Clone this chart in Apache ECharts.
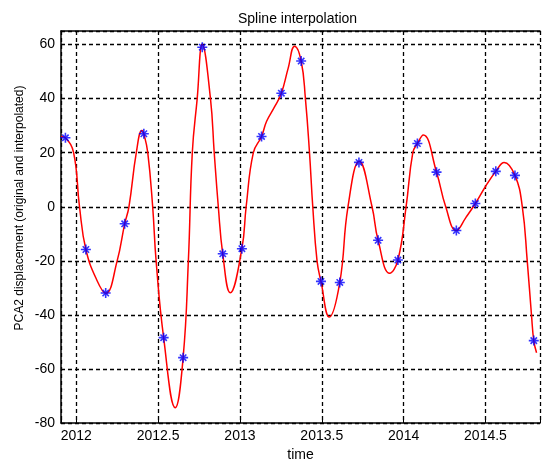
<!DOCTYPE html>
<html>
<head>
<meta charset="utf-8">
<script src="https://cdn.jsdelivr.net/npm/echarts@6/dist/echarts.min.js"></script>
<style>html,body{margin:0;padding:0;background:#fff}#c{width:543px;height:467px}</style>
</head>
<body>
<div id="c"></div>
<script>
// original samples (blue markers)
var pointsX = [2011.934, 2012.059, 2012.180, 2012.296, 2012.413, 2012.534, 2012.653, 2012.770, 2012.895, 2013.012, 2013.132, 2013.253, 2013.374, 2013.495, 2013.610, 2013.727, 2013.844, 2013.965, 2014.084, 2014.201, 2014.322, 2014.438, 2014.563, 2014.680, 2014.795];
var pointsY = [25.5, -15.8, -31.9, -6.3, 27.0, -48.4, -55.8, 59.0, -17.4, -15.5, 26.0, 42.0, 53.9, -27.6, -28.0, 16.4, -12.4, -19.7, 23.4, 12.8, -8.8, 1.2, 13.1, 11.6, -49.5];
// interpolated curve (red line)
var curveX = [2011.907, 2011.934, 2011.984, 2012.020, 2012.059, 2012.125, 2012.180, 2012.250, 2012.296, 2012.322, 2012.367, 2012.401, 2012.413, 2012.437, 2012.467, 2012.488, 2012.534, 2012.605, 2012.653, 2012.685, 2012.709, 2012.739, 2012.770, 2012.820, 2012.843, 2012.868, 2012.895, 2012.941, 2013.012, 2013.038, 2013.082, 2013.132, 2013.163, 2013.213, 2013.253, 2013.294, 2013.334, 2013.374, 2013.400, 2013.425, 2013.445, 2013.471, 2013.495, 2013.546, 2013.610, 2013.660, 2013.729, 2013.807, 2013.844, 2013.915, 2013.965, 2014.015, 2014.056, 2014.084, 2014.120, 2014.201, 2014.257, 2014.322, 2014.380, 2014.438, 2014.500, 2014.563, 2014.614, 2014.680, 2014.725, 2014.755, 2014.781, 2014.795, 2014.812];
var curveY = [26.0, 25.5, 20.0, 0.0, -15.8, -27.0, -32.0, -20.0, -6.3, 0.0, 20.0, 28.2, 27.0, 20.0, 0.0, -20.0, -48.4, -74.3, -55.8, -20.0, 20.0, 40.0, 60.0, 40.0, 20.0, 0.0, -17.4, -31.8, -15.5, 0.0, 20.0, 26.0, 31.6, 37.1, 42.0, 51.1, 59.4, 53.9, 40.0, 20.0, 0.0, -20.0, -27.6, -40.8, -28.0, 0.0, 16.8, 0.0, -12.4, -24.6, -19.7, 0.0, 20.0, 23.4, 26.5, 12.8, 0.0, -8.8, -4.0, 1.2, 7.5, 13.1, 16.4, 11.6, 0.0, -20.0, -40.0, -49.5, -54.0];
var xTicks = [2012, 2012.5, 2013, 2013.5, 2014, 2014.5];
var yTicks = [-80, -60, -40, -20, 0, 20, 40, 60];

var curve = curveX.map(function (x, i) { return [x, curveY[i]]; });
var pts = pointsX.map(function (x, i) { return [x, pointsY[i]]; });

var chart = echarts.init(document.getElementById('c'), null, {renderer: 'canvas'});
var fontFam = '"Liberation Sans", Arial, sans-serif';
var gridLine = {show: true, lineStyle: {color: '#000', type: [4, 3], width: 1.3}};
chart.setOption({
  animation: false,
  backgroundColor: '#fff',
  title: {
    text: 'Spline interpolation', left: 233, top: 7,
    textStyle: {fontSize: 14, fontWeight: 'normal', color: '#000', fontFamily: fontFam}
  },
  graphic: [{
    type: 'text', x: 20, y: 208, rotation: Math.PI / 2,
    style: {text: 'PCA2 displacement (original and interpolated)', fontSize: 12, fontFamily: fontFam, fill: '#000', align: 'center', verticalAlign: 'middle'}
  }],
  grid: {left: 61, right: -2, top: 31, bottom: 38, containLabel: false},
  xAxis: [{
    type: 'value', min: 2011.907, max: 2014.833, position: 'bottom',
    name: 'time', nameLocation: 'middle', nameGap: 24,
    nameTextStyle: {fontSize: 14, color: '#000', fontFamily: fontFam},
    axisLine: {show: true, onZero: false, lineStyle: {color: '#000', width: 1.5}},
    axisTick: {show: true, inside: true, length: 4, lineStyle: {color: '#000'}},
    axisLabel: {
      fontSize: 14, color: '#000', fontFamily: fontFam, margin: 6,
      formatter: function (v) { return xTicks.some(function (t) { return Math.abs(t - v) < 1e-6; }) ? String(v) : ''; }
    },
    splitLine: gridLine
  }, {
    type: 'value', min: 2011.907, max: 2014.833, position: 'top',
    axisLine: {show: true, onZero: false, lineStyle: {color: '#000', width: 1.5}},
    axisTick: {show: true, inside: true, length: 4, lineStyle: {color: '#000'}},
    axisLabel: {show: false}, splitLine: {show: false}
  }],
  yAxis: {
    type: 'value', min: -80, max: 65, interval: 20,
    axisLine: {show: true, onZero: false, lineStyle: {color: '#000', width: 1.5}},
    axisTick: {show: true, inside: true, length: 4, lineStyle: {color: '#000'}},
    axisLabel: {
      fontSize: 14, color: '#000', fontFamily: fontFam, margin: 6,
      formatter: function (v) { return yTicks.indexOf(v) >= 0 ? String(v) : ''; }
    },
    splitLine: gridLine
  },
  series: [{
    type: 'line', data: curve, smooth: 0.45, showSymbol: false, xAxisIndex: 0,
    lineStyle: {color: '#ff0000', width: 1.5}, z: 3
  }, {
    type: 'scatter', data: pts, xAxisIndex: 0,
    symbol: 'path://M0,-5L0,5M-5,0L5,0M-3.2,-3.2L3.2,3.2M-3.2,3.2L3.2,-3.2',
    symbolSize: 10,
    itemStyle: {color: 'none', borderColor: '#0000ff', borderWidth: 1.6}, z: 4
  }]
});
</script>
</body>
</html>
